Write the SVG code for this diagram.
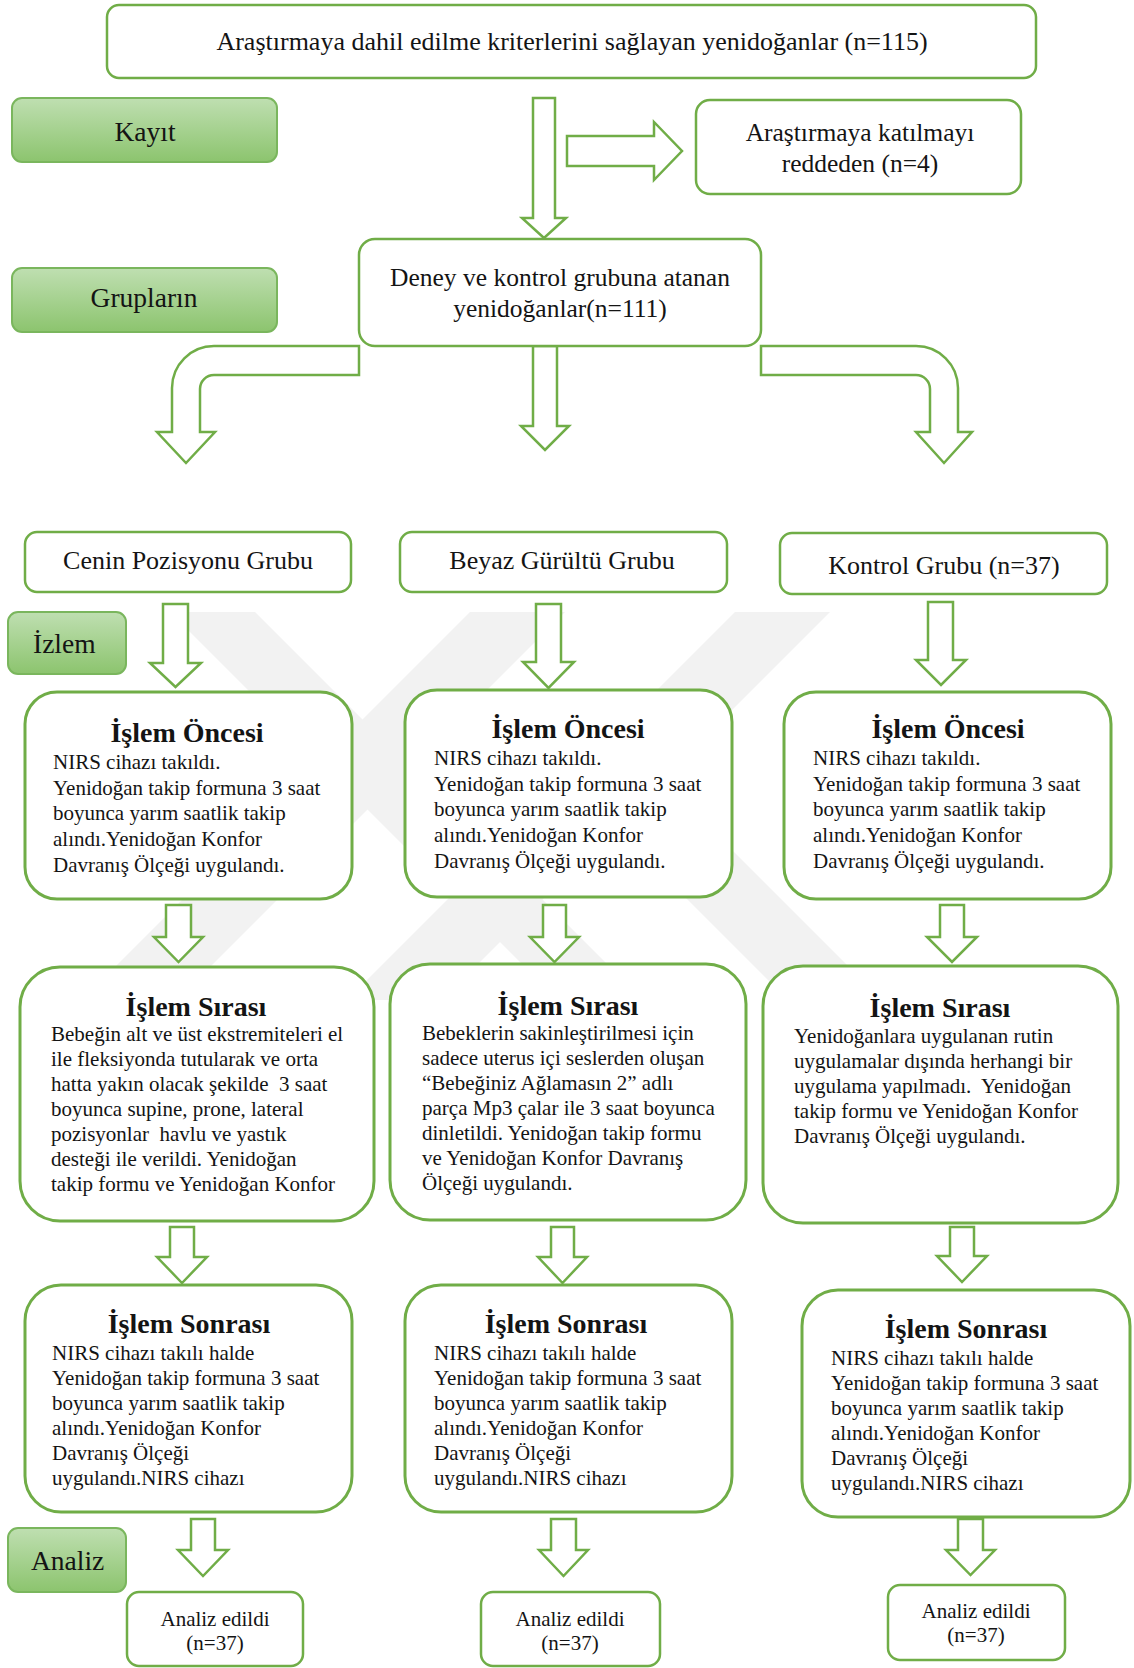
<svg xmlns="http://www.w3.org/2000/svg" width="1134" height="1668" viewBox="0 0 1134 1668">
<defs>
 <linearGradient id="lblg" x1="0" y1="0" x2="0" y2="1">
  <stop offset="0" stop-color="#bfdfb1"/>
  <stop offset="1" stop-color="#8cc46e"/>
 </linearGradient>
 <clipPath id="wmclip"><rect x="0" y="612" width="1134" height="400"/></clipPath>
</defs>
<style>
 .box{fill:#fff;stroke:#70ad47;stroke-width:2.5}
 .rbox{fill:#fff;stroke:#70ad47;stroke-width:3}
 .lbl{fill:url(#lblg);stroke:#7ab65d;stroke-width:2}
 .arr{fill:#fff;stroke:#70ad47;stroke-width:2.5;stroke-linejoin:miter}
 .wm{fill:#f2f2f2}
 text{font-family:"Liberation Serif","Times New Roman",serif;fill:#141414}
 .t26{font-size:26px}
 .t25{font-size:25.5px}
 .lb{font-size:27.5px}
 .hd{font-size:28px;font-weight:bold;text-anchor:middle}
 .bd{font-size:21px;white-space:pre}
 .c{text-anchor:middle}
</style>
<rect x="0" y="0" width="1134" height="1668" fill="#fff"/>

<g id="watermark" clip-path="url(#wmclip)">
 <polygon class="wm" points="170,612 255,612 643,1000 558,1000"/>
 <polygon class="wm" points="470,612 565,612 177,1000 82,1000"/>
 <polygon class="wm" points="735,612 830,612 442,1000 347,1000"/>
 <polygon class="wm" points="488,700 582,700 882,1000 788,1000"/>
</g>

<g id="connectors">
 <path class="arr" d="M533 98 L555 98 L555 218 L566 218 L544 238 L522 218 L533 218 Z"/>
 <path class="arr" d="M567 136 L654 136 L654 122 L682 151 L654 180 L654 166 L567 166 Z"/>
 <path class="arr" d="M359 346 L214 346 A42 42 0 0 0 172 388 L172 432 L157 432 L186 463 L215 432 L200 432 L200 389 A14 14 0 0 1 214 375 L359 375 Z"/>
 <path class="arr" d="M533 346 L557 346 L557 426 L569 426 L545 450 L521 426 L533 426 Z"/>
 <path class="arr" d="M761 346 L916 346 A42 42 0 0 1 958 388 L958 432 L972 432 L944 463 L916 432 L930 432 L930 389 A14 14 0 0 0 916 375 L761 375 Z"/>
 <path class="arr" d="M163 604 L188 604 L188 663 L201 663 L175.5 687 L150 663 L163 663 Z"/>
 <path class="arr" d="M536 604 L561 604 L561 662 L574 662 L548.5 688 L523 662 L536 662 Z"/>
 <path class="arr" d="M928 602 L953 602 L953 660 L966 660 L941 685 L916 660 L928 660 Z"/>
 <path class="arr" d="M166 905 L191 905 L191 937 L203 937 L178.5 962 L154 937 L166 937 Z"/>
 <path class="arr" d="M543 905 L566 905 L566 937 L579 937 L554.5 962 L530 937 L543 937 Z"/>
 <path class="arr" d="M940 905 L964 905 L964 937 L977 937 L952 962 L927 937 L940 937 Z"/>
 <path class="arr" d="M170 1227 L194 1227 L194 1257 L207 1257 L182 1283 L157 1257 L170 1257 Z"/>
 <path class="arr" d="M551 1227 L574 1227 L574 1257 L587 1257 L562.5 1283 L538 1257 L551 1257 Z"/>
 <path class="arr" d="M950 1227 L974 1227 L974 1256 L987 1256 L962 1282 L937 1256 L950 1256 Z"/>
 <path class="arr" d="M191 1519 L215 1519 L215 1550 L228 1550 L203 1576 L178 1550 L191 1550 Z"/>
 <path class="arr" d="M551 1519 L576 1519 L576 1550 L588 1550 L563.5 1576 L539 1550 L551 1550 Z"/>
 <path class="arr" d="M958 1519 L983 1519 L983 1550 L995 1550 L970.5 1575 L946 1550 L958 1550 Z"/>
</g>

<g id="n-top">
 <rect class="box" x="107" y="5" width="929" height="73" rx="12"/>
 <text class="t26 c" x="572" y="50">Araştırmaya dahil edilme kriterlerini sağlayan yenidoğanlar (n=115)</text>
</g>
<g id="l-kayit">
 <rect class="lbl" x="12" y="98" width="265" height="64" rx="10"/>
 <text class="lb c" x="145" y="141">Kayıt</text>
</g>
<g id="n-red">
 <rect class="box" x="696" y="100" width="325" height="94" rx="14"/>
 <text class="t25 c" x="860" y="141">Araştırmaya katılmayı</text>
 <text class="t25 c" x="860" y="172">reddeden (n=4)</text>
</g>
<g id="l-gruplar">
 <rect class="lbl" x="12" y="268" width="265" height="64" rx="10"/>
 <text class="lb c" x="144" y="307">Grupların</text>
</g>
<g id="n-deney">
 <rect class="box" x="359" y="239" width="402" height="107" rx="16"/>
 <text class="t25 c" x="560" y="286">Deney ve kontrol grubuna atanan</text>
 <text class="t25 c" x="560" y="317">yenidoğanlar(n=111)</text>
</g>

<g id="n-cenin">
 <rect class="box" x="25" y="532" width="326" height="60" rx="12"/>
 <text class="t26 c" x="188" y="569">Cenin Pozisyonu Grubu</text>
</g>
<g id="n-beyaz">
 <rect class="box" x="400" y="532" width="327" height="60" rx="12"/>
 <text class="t26 c" x="562" y="569">Beyaz Gürültü Grubu</text>
</g>
<g id="n-kontrol">
 <rect class="box" x="780" y="533" width="327" height="61" rx="12"/>
 <text class="t26 c" x="944" y="574">Kontrol Grubu (n=37)</text>
</g>
<g id="l-izlem">
 <rect class="lbl" x="8" y="612" width="118" height="62" rx="10"/>
 <text class="lb" x="33" y="653">İzlem</text>
</g>

<g id="n-once-1">
 <rect class="rbox" x="25" y="692" width="327" height="207" rx="32"/>
 <text class="hd" x="187" y="742">İşlem Öncesi</text>
 <text class="bd" x="53" y="769">NIRS cihazı takıldı.</text>
 <text class="bd" x="53" y="795">Yenidoğan takip formuna 3 saat</text>
 <text class="bd" x="53" y="820">boyunca yarım saatlik takip</text>
 <text class="bd" x="53" y="846">alındı.Yenidoğan Konfor</text>
 <text class="bd" x="53" y="872">Davranış Ölçeği uygulandı.</text>
</g>
<g id="n-once-2">
 <rect class="rbox" x="405" y="690" width="327" height="207" rx="32"/>
 <text class="hd" x="568" y="738">İşlem Öncesi</text>
 <text class="bd" x="434" y="765">NIRS cihazı takıldı.</text>
 <text class="bd" x="434" y="791">Yenidoğan takip formuna 3 saat</text>
 <text class="bd" x="434" y="816">boyunca yarım saatlik takip</text>
 <text class="bd" x="434" y="842">alındı.Yenidoğan Konfor</text>
 <text class="bd" x="434" y="868">Davranış Ölçeği uygulandı.</text>
</g>
<g id="n-once-3">
 <rect class="rbox" x="784" y="692" width="327" height="207" rx="32"/>
 <text class="hd" x="948" y="738">İşlem Öncesi</text>
 <text class="bd" x="813" y="765">NIRS cihazı takıldı.</text>
 <text class="bd" x="813" y="791">Yenidoğan takip formuna 3 saat</text>
 <text class="bd" x="813" y="816">boyunca yarım saatlik takip</text>
 <text class="bd" x="813" y="842">alındı.Yenidoğan Konfor</text>
 <text class="bd" x="813" y="868">Davranış Ölçeği uygulandı.</text>
</g>

<g id="n-sira-1">
 <rect class="rbox" x="20" y="967" width="354" height="254" rx="40"/>
 <text class="hd" x="196" y="1016">İşlem Sırası</text>
 <text class="bd" x="51" y="1041">Bebeğin alt ve üst ekstremiteleri el</text>
 <text class="bd" x="51" y="1066">ile fleksiyonda tutularak ve orta</text>
 <text class="bd" x="51" y="1091">hatta yakın olacak şekilde  3 saat</text>
 <text class="bd" x="51" y="1116">boyunca supine, prone, lateral</text>
 <text class="bd" x="51" y="1141">pozisyonlar  havlu ve yastık</text>
 <text class="bd" x="51" y="1166">desteği ile verildi. Yenidoğan</text>
 <text class="bd" x="51" y="1191">takip formu ve Yenidoğan Konfor</text>
</g>
<g id="n-sira-2">
 <rect class="rbox" x="390" y="964" width="356" height="256" rx="40"/>
 <text class="hd" x="568" y="1015">İşlem Sırası</text>
 <text class="bd" x="422" y="1040">Bebeklerin sakinleştirilmesi için</text>
 <text class="bd" x="422" y="1065">sadece uterus içi seslerden oluşan</text>
 <text class="bd" x="422" y="1090">“Bebeğiniz Ağlamasın 2” adlı</text>
 <text class="bd" x="422" y="1115">parça Mp3 çalar ile 3 saat boyunca</text>
 <text class="bd" x="422" y="1140">dinletildi. Yenidoğan takip formu</text>
 <text class="bd" x="422" y="1165">ve Yenidoğan Konfor Davranış</text>
 <text class="bd" x="422" y="1190">Ölçeği uygulandı.</text>
</g>
<g id="n-sira-3">
 <rect class="rbox" x="763" y="966" width="355" height="257" rx="40"/>
 <text class="hd" x="940" y="1017">İşlem Sırası</text>
 <text class="bd" x="794" y="1043">Yenidoğanlara uygulanan rutin</text>
 <text class="bd" x="794" y="1068">uygulamalar dışında herhangi bir</text>
 <text class="bd" x="794" y="1093">uygulama yapılmadı.  Yenidoğan</text>
 <text class="bd" x="794" y="1118">takip formu ve Yenidoğan Konfor</text>
 <text class="bd" x="794" y="1143">Davranış Ölçeği uygulandı.</text>
</g>

<g id="n-sonra-1">
 <rect class="rbox" x="25" y="1285" width="327" height="227" rx="36"/>
 <text class="hd" x="189" y="1333">İşlem Sonrası</text>
 <text class="bd" x="52" y="1360">NIRS cihazı takılı halde</text>
 <text class="bd" x="52" y="1385">Yenidoğan takip formuna 3 saat</text>
 <text class="bd" x="52" y="1410">boyunca yarım saatlik takip</text>
 <text class="bd" x="52" y="1435">alındı.Yenidoğan Konfor</text>
 <text class="bd" x="52" y="1460">Davranış Ölçeği</text>
 <text class="bd" x="52" y="1485">uygulandı.NIRS cihazı</text>
</g>
<g id="n-sonra-2">
 <rect class="rbox" x="405" y="1285" width="327" height="227" rx="36"/>
 <text class="hd" x="566" y="1333">İşlem Sonrası</text>
 <text class="bd" x="434" y="1360">NIRS cihazı takılı halde</text>
 <text class="bd" x="434" y="1385">Yenidoğan takip formuna 3 saat</text>
 <text class="bd" x="434" y="1410">boyunca yarım saatlik takip</text>
 <text class="bd" x="434" y="1435">alındı.Yenidoğan Konfor</text>
 <text class="bd" x="434" y="1460">Davranış Ölçeği</text>
 <text class="bd" x="434" y="1485">uygulandı.NIRS cihazı</text>
</g>
<g id="n-sonra-3">
 <rect class="rbox" x="802" y="1290" width="328" height="227" rx="36"/>
 <text class="hd" x="966" y="1338">İşlem Sonrası</text>
 <text class="bd" x="831" y="1365">NIRS cihazı takılı halde</text>
 <text class="bd" x="831" y="1390">Yenidoğan takip formuna 3 saat</text>
 <text class="bd" x="831" y="1415">boyunca yarım saatlik takip</text>
 <text class="bd" x="831" y="1440">alındı.Yenidoğan Konfor</text>
 <text class="bd" x="831" y="1465">Davranış Ölçeği</text>
 <text class="bd" x="831" y="1490">uygulandı.NIRS cihazı</text>
</g>

<g id="l-analiz">
 <rect class="lbl" x="8" y="1528" width="118" height="64" rx="10"/>
 <text class="lb" x="31" y="1570">Analiz</text>
</g>
<g id="n-analiz-1">
 <rect class="box" x="127" y="1592" width="176" height="74" rx="12"/>
 <text class="bd c" x="215" y="1626">Analiz edildi</text>
 <text class="bd c" x="215" y="1650">(n=37)</text>
</g>
<g id="n-analiz-2">
 <rect class="box" x="481" y="1592" width="179" height="74" rx="12"/>
 <text class="bd c" x="570" y="1626">Analiz edildi</text>
 <text class="bd c" x="570" y="1650">(n=37)</text>
</g>
<g id="n-analiz-3">
 <rect class="box" x="888" y="1585" width="177" height="75" rx="12"/>
 <text class="bd c" x="976" y="1618">Analiz edildi</text>
 <text class="bd c" x="976" y="1642">(n=37)</text>
</g>
</svg>
